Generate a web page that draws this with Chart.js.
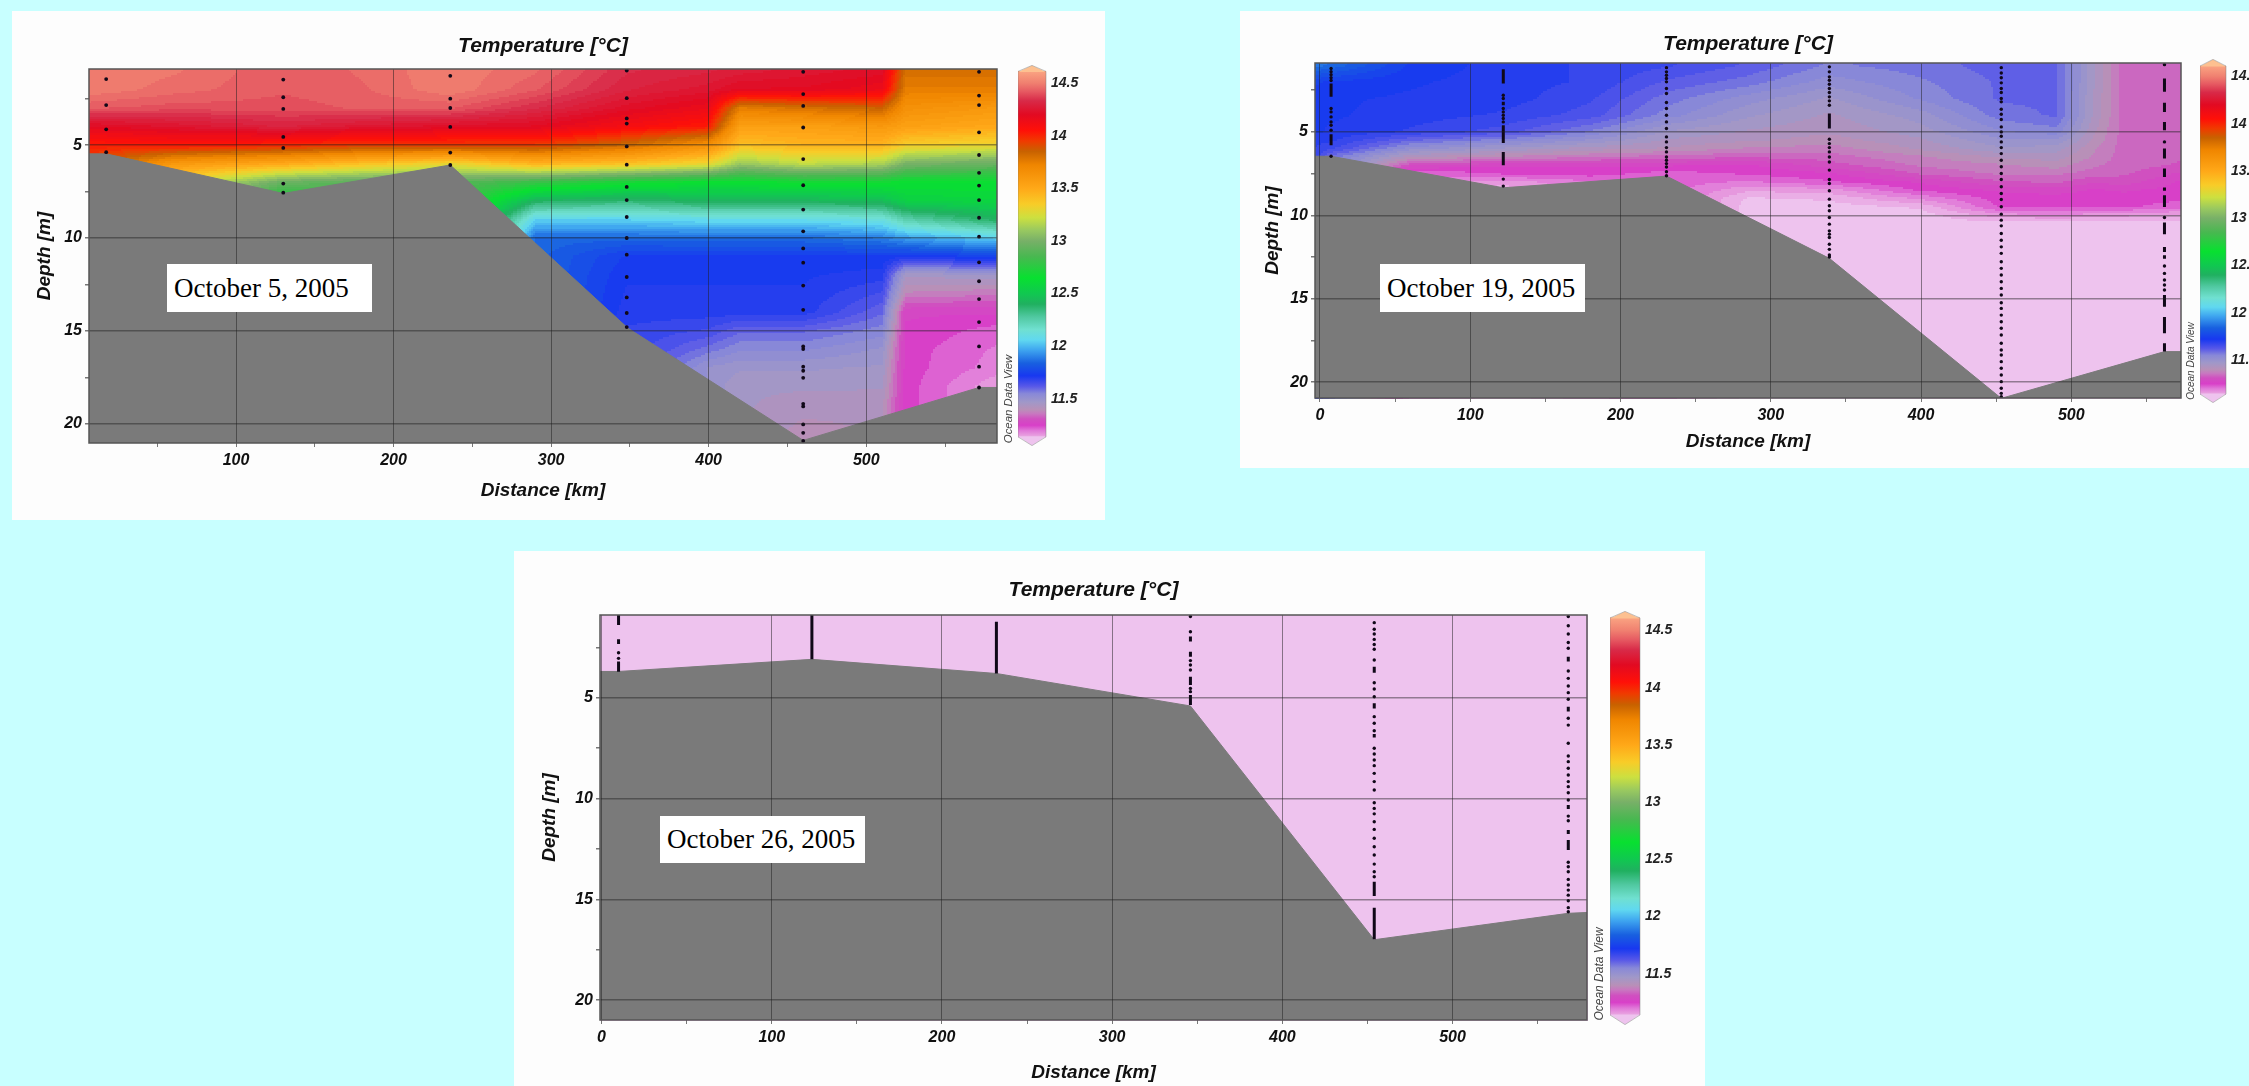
<!DOCTYPE html>
<html>
<head>
<meta charset="utf-8">
<title>Temperature sections</title>
<script src="https://cdn.jsdelivr.net/npm/chart.js@4/dist/chart.umd.min.js"></script>
<style>
  html, body { margin: 0; width: 2249px; height: 1086px; overflow: hidden; background: #c8ffff; }
  .panel { position: absolute; background: #fdfdfd; }
  canvas { position: absolute; }
  .date { position: absolute; background: #fff; color: #000; font: 27px "Liberation Serif", serif; box-sizing: border-box; white-space: nowrap; }
  .odv { position: absolute; color: #444; font: italic 11px "Liberation Sans", sans-serif; white-space: nowrap; transform: translate(-50%, -50%) rotate(-90deg); }
</style>
</head>
<body>
<script>
// colour scale
const paletteValues = [11.1, 11.15, 11.2, 11.25, 11.31, 11.36, 11.4, 11.47, 11.55, 11.62, 11.72, 11.84, 11.97, 12.06, 12.16, 12.28, 12.4, 12.5, 12.65, 12.85, 13, 13.1, 13.22, 13.35, 13.5, 13.72, 13.85, 13.95, 14.05, 14.2, 14.33, 14.42, 14.5, 14.6, 14.67];
const paletteColors = ["#eec3ee", "#e8a0e0", "#e078d8", "#d840c8", "#d050c0", "#c878c0", "#b890b8", "#a098c8", "#8888d8", "#5858e8", "#1838f0", "#1860e0", "#40a8f0", "#60d8f0", "#70e0d0", "#50c8a0", "#20b060", "#10c850", "#08e030", "#48b850", "#78b068", "#98c860", "#cce040", "#f8cc28", "#ffa818", "#f08600", "#c86200", "#f03a00", "#ff1008", "#e20a22", "#d82a48", "#e65a62", "#f08070", "#f9a080", "#fdc090"];
const legendTicks = [11.5, 12, 12.5, 13, 13.5, 14, 14.5];
const legendRange = [11.14, 14.61];

const distanceTicks = [0, 50, 100, 150, 200, 250, 300, 350, 400, 450, 500, 550];
const depthTicks = [2.5, 5, 7.5, 10, 12.5, 15, 17.5, 20];

// October 5
const oct5SeabedKm = [6.7, 17.6, 130, 236, 348.5, 460, 571.6, 583];
const oct5SeabedDepth = [5.47, 5.47, 7.6, 6.07, 14.84, 20.9, 18.05, 18.05];
const oct5StationKm = [17.6, 130, 236, 348, 460, 571.6];
const oct5StationDots = [
  [1.44, 2.84, 4.15, 5.38],
  [1.47, 2.42, 3.05, 4.56, 5.15, 7.07, 7.56],
  [1.27, 2.5, 3, 4.02, 5.4, 6.07],
  [0.98, 2.47, 3.56, 3.84, 5.07, 6.05, 7.25, 7.96, 8.87, 10, 10.9, 12.1, 13.2, 14.04, 14.8],
  [1.05, 2.25, 2.89, 4.05, 5.75, 7.16, 8.47, 9.64, 10.56, 11.33, 12.56, 13.87, 15.84, 15.98, 16.93, 17.15, 17.53, 18.93, 19.07, 20.04, 20.49, 20.93],
  [1.05, 2.33, 2.84, 4.31, 5.53, 6.49, 7.18, 7.96, 8.91, 9.93, 11.31, 12.33, 13.29, 14.53, 15.84, 16.93, 18.05]
];
const oct5StationRuns = [[], [], [], [], [], []];
const oct5FieldKm = [6.7, 60, 130, 180, 236, 290, 348, 400, 420, 460, 510, 525, 583];
const oct5FieldDepth = [1, 2, 3, 4, 5, 6, 7, 8, 9, 10, 11, 12, 13, 14, 15, 16, 17, 18, 19, 20, 21];
const oct5FieldTemp = [
  [14.5, 14.5, 14.42, 14.2, 14.02, 13.9],
  [14.48, 14.46, 14.4, 14.24, 14.04, 13.6, 13.3],
  [14.42, 14.42, 14.4, 14.3, 14, 13.5, 12.95, 12.65],
  [14.45, 14.44, 14.42, 14.25, 13.95, 13.4, 12.9],
  [14.5, 14.5, 14.42, 14.22, 13.95, 13.3, 12.9],
  [14.45, 14.42, 14.33, 14.2, 13.95, 13.45, 12.8, 12.4, 12.05, 11.85],
  [14.33, 14.3, 14.22, 14.1, 13.82, 13.4, 12.7, 12.36, 12.05, 11.85, 11.74, 11.72, 11.71, 11.7, 11.68],
  [14.3, 14.25, 14.15, 14.02, 13.65, 13.3, 12.65, 12.42, 12.08, 11.86, 11.74, 11.72, 11.71, 11.7, 11.65, 11.58, 11.5],
  [14.28, 14.2, 13.75, 13.55, 13.4, 13.1, 12.65, 12.42, 12.08, 11.86, 11.74, 11.72, 11.71, 11.7, 11.6, 11.54, 11.48, 11.45],
  [14.25, 14.2, 13.8, 13.55, 13.45, 13.2, 12.68, 12.42, 12.08, 11.86, 11.74, 11.72, 11.71, 11.7, 11.6, 11.54, 11.48, 11.45, 11.43, 11.41, 11.39],
  [14.22, 14.15, 13.85, 13.6, 13.45, 13.15, 12.68, 12.45, 12.12, 11.9, 11.74, 11.7, 11.65, 11.6, 11.55, 11.5, 11.47, 11.45, 11.42],
  [13.8, 13.75, 13.65, 13.55, 13.35, 13, 12.65, 12.55, 12.25, 11.95, 11.72, 11.45, 11.38, 11.27, 11.26, 11.25, 11.25, 11.25, 11.25],
  [13.8, 13.75, 13.6, 13.5, 13.3, 12.95, 12.65, 12.58, 12.4, 12.05, 11.75, 11.47, 11.36, 11.27, 11.22, 11.2, 11.19, 11.15]
];

// October 19
const oct19SeabedKm = [-3.3, 7.4, 122, 230.6, 339, 453.4, 562, 573];
const oct19SeabedDepth = [6.46, 6.46, 8.35, 7.65, 12.58, 20.97, 18.17, 18.17];
const oct19StationKm = [7.4, 122, 230.6, 339, 453.4, 562];
const oct19StationDots = [
  [1.2, 1.39, 1.57, 1.75, 1.92, 3.6, 3.8, 4.1, 4.4, 4.6, 4.9, 6.46],
  [2.8, 3, 3.6, 3.8, 4, 4.2, 4.4, 7.83, 8.25],
  [1.15, 1.4, 1.6, 1.8, 2, 2.4, 2.7, 3.24, 3.6, 4, 4.4, 4.8, 5.3, 5.6, 5.94, 6.2, 6.5, 6.7, 6.9, 7.1, 7.39, 7.63],
  [1.1, 1.4, 1.7, 1.9, 2.14, 2.4, 2.64, 2.9, 3.14, 3.4, 5.44, 5.7, 5.94, 6.2, 6.5, 6.8, 7.29, 7.85, 8.09, 8.53, 9.03, 9.43, 9.73, 10.13, 10.53, 10.93, 11.13, 11.33, 11.73, 12.04, 12.38, 12.5],
  [1.15, 1.47, 1.75, 2.06, 2.4, 2.64, 3, 3.2, 3.64, 3.94, 4.26, 4.7, 5, 5.26, 5.6, 5.94, 6.3, 6.7, 7.09, 7.49, 7.85, 8.29, 8.69, 9.05, 9.49, 9.93, 10.29, 10.63, 11.09, 11.49, 11.89, 12.28, 12.78, 13.18, 13.58, 13.98, 14.38, 14.78, 15.24, 15.58, 15.98, 16.38, 16.77, 17.17, 17.67, 18.07, 18.37, 18.77, 19.17, 19.57, 19.97, 20.37, 20.67, 20.87],
  [0.97, 5.6, 10.13, 13.04, 13.48, 13.88, 14.18, 14.48]
];
const oct19StationRuns = [
  [[2.1, 2.9], [5.14, 5.8]],
  [[1.25, 2.1], [3.2, 3.4], [4.6, 5.66], [6.2, 7]],
  [],
  [[3.9, 4.8]],
  [],
  [[1.8, 2.6], [3.26, 3.8], [4.4, 4.9], [6, 6.6], [7.2, 7.7], [8.33, 8.53], [8.8, 9.5], [10.43, 11.13], [11.9, 12.2], [12.4, 12.6], [14.78, 15.48], [16.1, 17.07], [17.67, 18.17]]
];
const oct19FieldKm = [-3.3, 7.4, 60, 122, 180, 231, 285, 339, 400, 453, 490, 515, 535, 573];
const oct19FieldDepth = [1, 2, 3, 4, 5, 5.5, 6, 6.5, 7, 7.5, 8, 8.5, 9, 9.5, 10, 10.5, 11];
const oct19FieldTemp = [
  [11.88, 11.75, 11.73, 11.72, 11.72, 11.7, 11.68],
  [11.86, 11.74, 11.72, 11.72, 11.71, 11.69, 11.66, 11.58],
  [11.74, 11.72, 11.71, 11.7, 11.68, 11.6, 11.52, 11.42, 11.3, 11.2],
  [11.7, 11.7, 11.7, 11.68, 11.64, 11.55, 11.47, 11.38, 11.27, 11.24, 11.16, 11.12],
  [11.68, 11.68, 11.66, 11.64, 11.56, 11.5, 11.43, 11.36, 11.27, 11.25, 11.2],
  [11.66, 11.62, 11.58, 11.55, 11.47, 11.44, 11.41, 11.34, 11.27, 11.22],
  [11.62, 11.58, 11.52, 11.48, 11.44, 11.42, 11.38, 11.33, 11.26, 11.24, 11.2, 11.15, 11.11, 11.1],
  [11.56, 11.52, 11.47, 11.44, 11.42, 11.4, 11.37, 11.34, 11.31, 11.26, 11.23, 11.16, 11.12, 11.1, 11.09],
  [11.58, 11.56, 11.54, 11.49, 11.46, 11.44, 11.42, 11.38, 11.36, 11.33, 11.27, 11.24, 11.18, 11.12, 11.1],
  [11.61, 11.6, 11.6, 11.58, 11.53, 11.5, 11.47, 11.42, 11.38, 11.36, 11.32, 11.27, 11.25, 11.24, 11.16, 11.1],
  [11.6, 11.6, 11.6, 11.6, 11.55, 11.5, 11.46, 11.43, 11.4, 11.36, 11.33, 11.28, 11.25, 11.24, 11.17, 11.1],
  [11.45, 11.45, 11.44, 11.44, 11.42, 11.41, 11.39, 11.38, 11.36, 11.34, 11.3, 11.26, 11.25, 11.24, 11.16, 11.1],
  [11.34, 11.34, 11.34, 11.34, 11.34, 11.34, 11.34, 11.34, 11.34, 11.33, 11.31, 11.27, 11.25, 11.24, 11.15, 11.1],
  [11.33, 11.33, 11.33, 11.33, 11.33, 11.33, 11.33, 11.33, 11.32, 11.29, 11.26, 11.25, 11.24, 11.22, 11.14, 11.1]
];

// October 26
const oct26SeabedKm = [-0.9, 10, 123.6, 232, 346, 454, 568, 579];
const oct26SeabedDepth = [3.7, 3.7, 3.1, 3.8, 5.41, 17, 15.69, 15.65];
const oct26StationKm = [10, 123.6, 232, 346, 454, 568];
const oct26StationDots = [
  [2.77, 3.05],
  [],
  [],
  [0.98, 1.73, 3.16, 3.38, 3.63, 4.54, 4.7],
  [1.28, 1.61, 1.84, 2.11, 2.36, 2.6, 3.13, 4.26, 4.57, 4.95, 5.94, 6.27, 6.64, 7.51, 7.79, 8.09, 8.37, 8.75, 9.16, 9.58, 10.21, 10.49, 10.76, 11.15, 11.53, 11.97, 12.39, 12.8, 13.25, 13.63, 13.88],
  [0.98, 1.43, 1.84, 2.26, 2.55, 3.68, 4.04, 4.42, 4.75, 5.08, 6.02, 6.36, 7.26, 7.89, 8.17, 8.5, 8.83, 9.16, 9.41, 9.71, 10.07, 10.87, 11.1, 13.16, 13.38, 13.63, 14.01, 14.29, 14.54, 14.79, 15.07, 15.41, 15.61]
];
const oct26StationRuns = [
  [[0.9, 1.4], [2.1, 2.34], [3.2, 3.71]],
  [[0.9, 3.1]],
  [[1.23, 3.8]],
  [[1.97, 2.22], [2.72, 2.97], [3.96, 4.37], [4.87, 5.36]],
  [[3.46, 3.76], [5.28, 5.53], [6.8, 6.97], [14.12, 14.83], [15.41, 16.98]],
  [[2.97, 3.21], [5.45, 5.69], [10.32, 10.52], [11.56, 11.76], [12.06, 12.55]]
];
const oct26FieldKm = [-0.9, 579];
const oct26FieldDepth = [1, 21];
const oct26FieldTemp = [[11.08], [11.08]];

const axisFont = { family: "'Liberation Sans', sans-serif", weight: "bold", style: "italic" };
const paletteRgb = paletteColors.map((c) => [1, 3, 5].map((i) => parseInt(c.slice(i, i + 2), 16)));

function colorFor(t) {
  t = Math.round(t / 0.03) * 0.03;
  if (t <= paletteValues[0]) return paletteColors[0];
  for (let i = 1; i < paletteValues.length; i++) {
    if (t <= paletteValues[i]) {
      const f = (t - paletteValues[i - 1]) / (paletteValues[i] - paletteValues[i - 1]);
      const a = paletteRgb[i - 1], b = paletteRgb[i];
      return `rgb(${a[0] + (b[0] - a[0]) * f},${a[1] + (b[1] - a[1]) * f},${a[2] + (b[2] - a[2]) * f})`;
    }
  }
  return paletteColors[paletteColors.length - 1];
}

// value of one column at a depth, last reading is held down to the seabed
function columnAt(col, depths, d) {
  if (d <= depths[0]) return col[0];
  for (let i = 1; i < col.length; i++) {
    if (d <= depths[i]) {
      const f = (d - depths[i - 1]) / (depths[i] - depths[i - 1]);
      return col[i - 1] + (col[i] - col[i - 1]) * f;
    }
  }
  return col[col.length - 1];
}

function fieldAt(field, km, d) {
  const xs = field.km;
  if (km <= xs[0]) return columnAt(field.temp[0], field.depth, d);
  for (let i = 1; i < xs.length; i++) {
    if (km <= xs[i]) {
      const f = (km - xs[i - 1]) / (xs[i] - xs[i - 1]);
      const a = columnAt(field.temp[i - 1], field.depth, d);
      const b = columnAt(field.temp[i], field.depth, d);
      return a + (b - a) * f;
    }
  }
  return columnAt(field.temp[xs.length - 1], field.depth, d);
}

// contour background, painted through the chart's own scales
const fieldPlugin = {
  id: "tempField",
  beforeDatasetsDraw(chart, args, opts) {
    const { ctx, chartArea: a, scales } = chart;
    const step = 2;
    ctx.save();
    for (let px = Math.floor(a.left); px < a.right; px += step) {
      const km = scales.x.getValueForPixel(px + step / 2);
      for (let py = Math.floor(a.top); py < a.bottom; py += step) {
        ctx.fillStyle = colorFor(fieldAt(opts, km, scales.y.getValueForPixel(py + step / 2)));
        ctx.fillRect(px, py, step, step);
      }
    }
    ctx.restore();
  },
  afterDraw(chart) {
    const { ctx, chartArea: a } = chart;
    ctx.save();
    ctx.strokeStyle = "#555";
    ctx.lineWidth = 1.5;
    ctx.strokeRect(a.left, a.top, a.right - a.left, a.bottom - a.top);
    ctx.restore();
  }
};

function runPoints(kms, runs) {
  const pts = [];
  kms.forEach((km, i) => runs[i].forEach(([from, to]) => {
    pts.push({ x: km, y: from }, { x: km, y: to }, { x: km, y: null });
  }));
  return pts;
}

function sectionChart(p) {
  const panel = document.createElement("div");
  panel.className = "panel";
  panel.style.cssText = `left:${p.box[0]}px;top:${p.box[1]}px;width:${p.box[2]}px;height:${p.box[3]}px`;
  document.body.appendChild(panel);

  const canvas = document.createElement("canvas");
  canvas.width = p.box[2];
  canvas.height = p.box[3];
  panel.appendChild(canvas);

  const dots = [];
  p.stationKm.forEach((km, i) => p.dots[i].forEach((d) => dots.push({ x: km, y: d })));

  new Chart(canvas, {
    type: "scatter",
    data: {
      datasets: [
        { data: dots, pointRadius: p.dotRadius, pointBackgroundColor: "#100818", pointBorderWidth: 0, showLine: false },
        { data: runPoints(p.stationKm, p.runs), showLine: true, spanGaps: false, pointRadius: 0, borderColor: "#100818", borderWidth: 3, borderCapStyle: "butt" },
        {
          data: p.seabedKm.map((km, i) => ({ x: km, y: p.seabedDepth[i] })),
          showLine: true, pointRadius: 0, borderColor: "#7a7a7a", borderWidth: 1,
          backgroundColor: "#7a7a7a", fill: "start", tension: 0
        }
      ]
    },
    plugins: [fieldPlugin],
    options: {
      responsive: false,
      animation: false,
      layout: { padding: { top: 0, left: 0, right: p.pad.right, bottom: 0 } },
      plugins: {
        legend: { display: false },
        tooltip: { enabled: false },
        tempField: { km: p.fieldKm, depth: p.fieldDepth, temp: p.fieldTemp },
        title: {
          display: true, fullSize: false, text: "Temperature [°C]", color: "#111",
          font: { ...axisFont, size: 21, lineHeight: 1 },
          padding: { top: p.titleTop, bottom: p.pad.top - p.titleTop - 21 }
        }
      },
      scales: {
        x: {
          type: "linear", min: p.xRange[0], max: p.xRange[1],
          afterBuildTicks: (s) => { s.ticks = distanceTicks.filter((v) => v >= s.min && v <= s.max).map((value) => ({ value })); },
          afterFit: (s) => { s.height = p.pad.bottom; },
          ticks: {
            autoSkip: false, maxRotation: 0, color: "#111", padding: 4,
            font: { ...axisFont, size: 16 },
            callback: (v) => (v % 100 === 0 ? String(v) : "")
          },
          grid: {
            z: 1, tickLength: 4, lineWidth: 1,
            color: (c) => (c.tick && c.tick.value % 100 === 0 ? "rgba(30,30,30,0.5)" : "rgba(0,0,0,0)"),
            tickColor: "#777"
          },
          border: { display: false },
          title: { display: true, text: "Distance [km]", color: "#111", font: { ...axisFont, size: 19, lineHeight: 1 }, padding: { top: 0, bottom: p.xTitleBottom } }
        },
        y: {
          type: "linear", reverse: true, min: p.yRange[0], max: p.yRange[1],
          afterBuildTicks: (s) => { s.ticks = depthTicks.map((value) => ({ value })); },
          afterFit: (s) => { s.width = p.pad.left; },
          ticks: {
            autoSkip: false, color: "#111", padding: 3,
            font: { ...axisFont, size: 16 },
            callback: (v) => (v % 5 === 0 ? String(v) : "")
          },
          grid: {
            z: 1, tickLength: 4, lineWidth: 1.5,
            color: (c) => (c.tick && c.tick.value % 5 === 0 ? "rgba(30,30,30,0.45)" : "rgba(0,0,0,0)"),
            tickColor: "#777"
          },
          border: { display: false },
          title: { display: true, text: "Depth [m]", color: "#111", font: { ...axisFont, size: 19, lineHeight: 1 }, padding: { top: p.yTitleTop, bottom: 0 } }
        }
      }
    }
  });

  const date = document.createElement("div");
  date.className = "date";
  date.textContent = p.date;
  date.style.cssText = `left:${p.dateBox[0]}px;top:${p.dateBox[1]}px;width:${p.dateBox[2]}px;height:${p.dateBox[3]}px;line-height:${p.dateBox[3]}px;padding-left:${p.dateBox[4]}px`;
  document.body.appendChild(date);

  const odv = document.createElement("div");
  odv.className = "odv";
  odv.textContent = "Ocean Data View";
  odv.style.left = p.odv[0] + "px";
  odv.style.top = p.odv[1] + "px";
  odv.style.fontSize = p.odv[2] + "px";
  document.body.appendChild(odv);

  legendChart(p.legend);
}

// pointed ends of the colour bar
const capsPlugin = {
  id: "caps",
  afterDatasetsDraw(chart) {
    const { ctx, chartArea: a, scales: { y } } = chart;
    const top = y.getPixelForValue(legendRange[1]);
    const bot = y.getPixelForValue(legendRange[0]);
    const mid = (a.left + a.right) / 2;
    ctx.save();
    ctx.fillStyle = paletteColors[paletteColors.length - 1];
    ctx.beginPath();
    ctx.moveTo(a.left, top + 0.5); ctx.lineTo(mid, a.top); ctx.lineTo(a.right, top + 0.5);
    ctx.fill();
    ctx.fillStyle = paletteColors[0];
    ctx.beginPath();
    ctx.moveTo(a.left, bot - 0.5); ctx.lineTo(mid, a.bottom); ctx.lineTo(a.right, bot - 0.5);
    ctx.fill();
    ctx.strokeStyle = "rgba(120,120,120,0.45)";
    ctx.beginPath();
    ctx.moveTo(a.left, top); ctx.lineTo(mid, a.top); ctx.lineTo(a.right, top);
    ctx.lineTo(a.right, bot); ctx.lineTo(mid, a.bottom); ctx.lineTo(a.left, bot);
    ctx.closePath();
    ctx.stroke();
    ctx.restore();
  }
};

function legendChart(l) {
  const margin = 12;
  const labelWidth = 60;
  const canvas = document.createElement("canvas");
  canvas.width = l.w + labelWidth;
  canvas.height = l.h + margin * 2;
  canvas.style.left = l.x + "px";
  canvas.style.top = l.y - margin + "px";
  document.body.appendChild(canvas);

  new Chart(canvas, {
    type: "bar",
    data: {
      labels: [""],
      datasets: [{
        data: [legendRange],
        barPercentage: 1,
        categoryPercentage: 1,
        backgroundColor: (c) => {
          const { ctx, chartArea, scales } = c.chart;
          if (!chartArea) return paletteColors[0];
          const y0 = scales.y.getPixelForValue(legendRange[0]);
          const y1 = scales.y.getPixelForValue(legendRange[1]);
          const g = ctx.createLinearGradient(0, y0, 0, y1);
          paletteValues.forEach((v, i) => {
            const f = (v - legendRange[0]) / (legendRange[1] - legendRange[0]);
            if (f >= 0 && f <= 1) g.addColorStop(f, paletteColors[i]);
          });
          return g;
        }
      }]
    },
    plugins: [capsPlugin],
    options: {
      responsive: false,
      animation: false,
      layout: { padding: { top: margin, bottom: margin, left: 0, right: 0 } },
      plugins: { legend: { display: false }, tooltip: { enabled: false } },
      scales: {
        x: { display: false },
        y: {
          position: "right", min: l.range[0], max: l.range[1],
          afterBuildTicks: (s) => { s.ticks = legendTicks.map((value) => ({ value })); },
          afterFit: (s) => { s.width = labelWidth; },
          grid: { display: false, drawTicks: false },
          border: { display: false },
          ticks: { autoSkip: false, color: "#222", padding: 5, font: { ...axisFont, size: 14 }, callback: (v) => String(v) }
        }
      }
    }
  });
}

sectionChart({
  box: [12, 11, 1093, 509], pad: { left: 77, right: 108, top: 58, bottom: 77 },
  xRange: [6.7, 583], yRange: [0.9, 21.04], titleTop: 25, yTitleTop: 23, xTitleBottom: 20, dotRadius: 1.9,
  date: "October 5, 2005", dateBox: [167, 264, 205, 48, 7], odv: [1008, 399, 11.4],
  legend: { x: 1018, y: 64, w: 28, h: 383, range: [11.057, 14.667] },
  seabedKm: oct5SeabedKm, seabedDepth: oct5SeabedDepth, stationKm: oct5StationKm, dots: oct5StationDots, runs: oct5StationRuns,
  fieldKm: oct5FieldKm, fieldDepth: oct5FieldDepth, fieldTemp: oct5FieldTemp
});

sectionChart({
  box: [1240, 11, 1009, 457], pad: { left: 75, right: 68, top: 52, bottom: 70 },
  xRange: [-3.3, 573], yRange: [0.87, 20.95], titleTop: 23, yTitleTop: 23, xTitleBottom: 17, dotRadius: 1.7,
  date: "October 19, 2005", dateBox: [1380, 264, 205, 48, 7], odv: [2190, 361, 10],
  legend: { x: 2200, y: 58, w: 26, h: 346, range: [11.05, 14.68] },
  seabedKm: oct19SeabedKm, seabedDepth: oct19SeabedDepth, stationKm: oct19StationKm, dots: oct19StationDots, runs: oct19StationRuns,
  fieldKm: oct19FieldKm, fieldDepth: oct19FieldDepth, fieldTemp: oct19FieldTemp
});

sectionChart({
  box: [514, 551, 1191, 535], pad: { left: 86, right: 118, top: 64, bottom: 66 },
  xRange: [-0.9, 579], yRange: [0.9, 20.98], titleTop: 29, yTitleTop: 26, xTitleBottom: 4, dotRadius: 1.7,
  date: "October 26, 2005", dateBox: [660, 816, 205, 47, 7], odv: [1599, 974, 12],
  legend: { x: 1610, y: 610, w: 30, h: 416, range: [11.056, 14.667] },
  seabedKm: oct26SeabedKm, seabedDepth: oct26SeabedDepth, stationKm: oct26StationKm, dots: oct26StationDots, runs: oct26StationRuns,
  fieldKm: oct26FieldKm, fieldDepth: oct26FieldDepth, fieldTemp: oct26FieldTemp
});
</script>
</body>
</html>
